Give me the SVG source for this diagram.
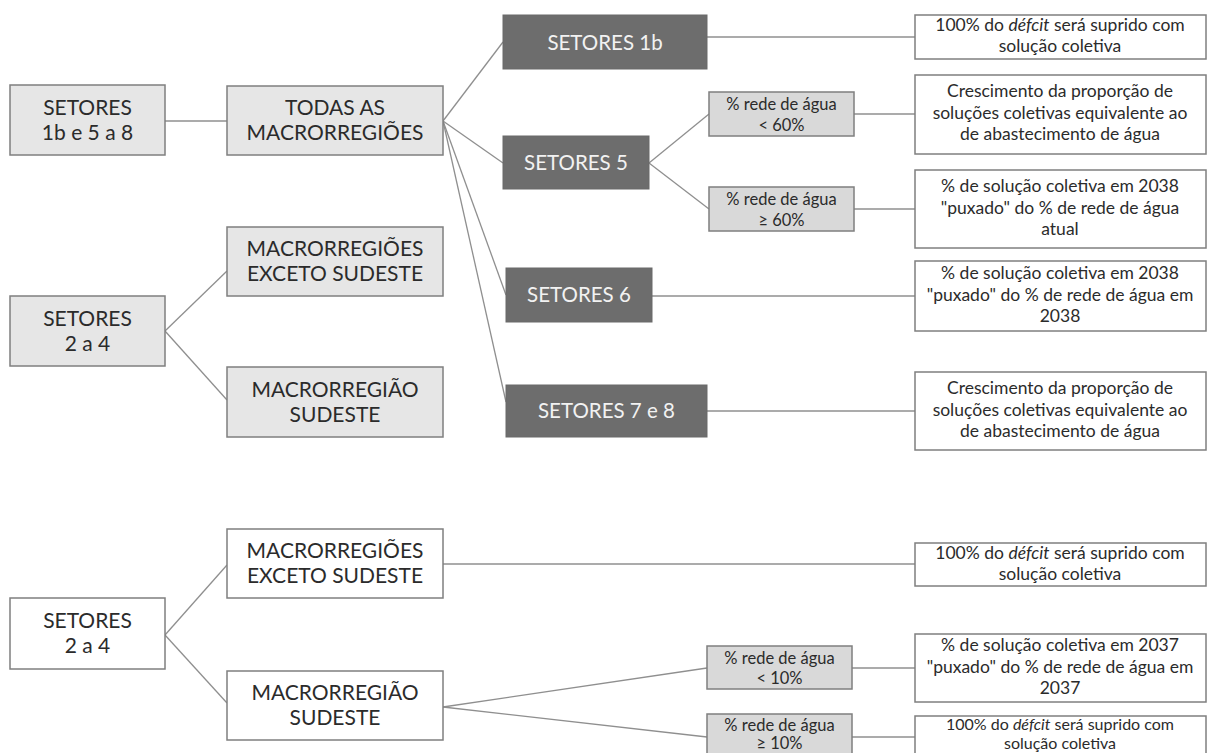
<svg xmlns="http://www.w3.org/2000/svg" width="1209" height="753" viewBox="0 0 1209 753">
  <style>
    .bg { fill: #ffffff; }
    .light rect { fill: #e6e6e6; stroke: #7f7f7f; stroke-width: 1.5; }
    .white rect { fill: #ffffff; stroke: #7f7f7f; stroke-width: 1.5; }
    .dark rect { fill: #6d6d6d; stroke: #6a6a6a; stroke-width: 1; }
    .cond rect { fill: #d9d9d9; stroke: #7f7f7f; stroke-width: 1.5; }
    .result rect { fill: #ffffff; stroke: #7f7f7f; stroke-width: 1.5; }
    text { font-family: Lato, "Liberation Sans", sans-serif; text-anchor: middle; }
    .light text, .white text { font-size: 21px; fill: #2b2b2b; }
    .dark text { font-size: 20.5px; fill: #f2f2f2; }
    .cond text { font-size: 16.5px; fill: #2b2b2b; }
    .result text { font-size: 17.5px; fill: #2b2b2b; }
    .result.edge text { font-size: 16px; }
    .it { font-style: italic; }
    #connectors line { stroke: #8f8f8f; stroke-width: 1.3; fill: none; }
  </style>
  <rect class="bg" x="0" y="0" width="1209" height="753"/>

  <!-- connectors -->
  <g id="connectors">
    <!-- upper tree -->
    <line x1="165" y1="121" x2="227" y2="121"/>
    <line x1="443" y1="121" x2="503" y2="42"/>
    <line x1="443" y1="121" x2="503" y2="163"/>
    <line x1="443" y1="121" x2="506" y2="295"/>
    <line x1="443" y1="121" x2="506" y2="402"/>
    <line x1="707" y1="37" x2="915" y2="37"/>
    <line x1="649" y1="163" x2="709" y2="114"/>
    <line x1="649" y1="163" x2="709" y2="209"/>
    <line x1="854" y1="114" x2="915" y2="114"/>
    <line x1="854" y1="209" x2="915" y2="209"/>
    <line x1="652" y1="296" x2="915" y2="296"/>
    <line x1="707" y1="411" x2="915" y2="411"/>
    <!-- middle tree -->
    <line x1="165" y1="331" x2="227" y2="271"/>
    <line x1="165" y1="331" x2="227" y2="400"/>
    <!-- lower tree -->
    <line x1="165" y1="635" x2="227" y2="565"/>
    <line x1="165" y1="635" x2="227" y2="703"/>
    <line x1="443" y1="564" x2="915" y2="564"/>
    <line x1="443" y1="707" x2="707" y2="668"/>
    <line x1="443" y1="707" x2="707" y2="737"/>
    <line x1="852" y1="668" x2="915" y2="668"/>
    <line x1="852" y1="737" x2="915" y2="737"/>
  </g>

  <!-- upper tree nodes -->
  <g id="n-setores-1b-5-8" class="light">
    <rect x="10" y="85" width="155" height="70"/>
    <text x="87.5" y="115">SETORES</text>
    <text x="87.5" y="140">1b e 5 a 8</text>
  </g>
  <g id="n-todas" class="light">
    <rect x="227" y="86" width="216" height="69"/>
    <text x="335" y="115">TODAS AS</text>
    <text x="335" y="140">MACRORREGIÕES</text>
  </g>
  <g id="n-s1b" class="dark">
    <rect x="503" y="15" width="204" height="54"/>
    <text x="605" y="50">SETORES 1b</text>
  </g>
  <g id="n-s5" class="dark">
    <rect x="503" y="136" width="146" height="53"/>
    <text x="576" y="170">SETORES 5</text>
  </g>
  <g id="n-s6" class="dark">
    <rect x="506" y="268" width="146" height="54"/>
    <text x="579" y="302">SETORES 6</text>
  </g>
  <g id="n-s78" class="dark">
    <rect x="506" y="385" width="201" height="52"/>
    <text x="606.5" y="418">SETORES 7 e 8</text>
  </g>
  <g id="n-lt60" class="cond">
    <rect x="709" y="92" width="145" height="44"/>
    <text x="781.5" y="110">% rede de água</text>
    <text x="781.5" y="131">&lt; 60%</text>
  </g>
  <g id="n-ge60" class="cond">
    <rect x="709" y="187" width="145" height="44"/>
    <text x="781.5" y="205">% rede de água</text>
    <text x="781.5" y="226">≥ 60%</text>
  </g>
  <g id="r1" class="result">
    <rect x="915" y="15" width="291" height="44"/>
    <text x="1060" y="31">100% do <tspan class="it">défcit</tspan> será suprido com</text>
    <text x="1060" y="52">solução coletiva</text>
  </g>
  <g id="r2" class="result">
    <rect x="915" y="75" width="291" height="79"/>
    <text x="1060" y="97">Crescimento da proporção de</text>
    <text x="1060" y="118.5">soluções coletivas equivalente ao</text>
    <text x="1060" y="140">de abastecimento de água</text>
  </g>
  <g id="r3" class="result">
    <rect x="915" y="170" width="291" height="78"/>
    <text x="1060" y="192">% de solução coletiva em 2038</text>
    <text x="1060" y="213.5">"puxado" do % de rede de água</text>
    <text x="1060" y="235">atual</text>
  </g>
  <g id="r4" class="result">
    <rect x="915" y="261" width="291" height="70"/>
    <text x="1060" y="279">% de solução coletiva em 2038</text>
    <text x="1060" y="300.5">"puxado" do % de rede de água em</text>
    <text x="1060" y="322">2038</text>
  </g>
  <g id="r5" class="result">
    <rect x="915" y="372" width="291" height="78"/>
    <text x="1060" y="394">Crescimento da proporção de</text>
    <text x="1060" y="415.5">soluções coletivas equivalente ao</text>
    <text x="1060" y="437">de abastecimento de água</text>
  </g>

  <!-- middle tree nodes -->
  <g id="n-setores-2-4-a" class="light">
    <rect x="10" y="296" width="155" height="70"/>
    <text x="87.5" y="326">SETORES</text>
    <text x="87.5" y="351">2 a 4</text>
  </g>
  <g id="n-exceto-a" class="light">
    <rect x="227" y="227" width="216" height="69"/>
    <text x="335" y="256">MACRORREGIÕES</text>
    <text x="335" y="281">EXCETO SUDESTE</text>
  </g>
  <g id="n-sudeste-a" class="light">
    <rect x="227" y="367" width="216" height="70"/>
    <text x="335" y="397">MACRORREGIÃO</text>
    <text x="335" y="422">SUDESTE</text>
  </g>

  <!-- lower tree nodes -->
  <g id="n-setores-2-4-b" class="white">
    <rect x="10" y="598" width="155" height="71"/>
    <text x="87.5" y="628">SETORES</text>
    <text x="87.5" y="653">2 a 4</text>
  </g>
  <g id="n-exceto-b" class="white">
    <rect x="227" y="529" width="216" height="69"/>
    <text x="335" y="558">MACRORREGIÕES</text>
    <text x="335" y="583">EXCETO SUDESTE</text>
  </g>
  <g id="n-sudeste-b" class="white">
    <rect x="227" y="671" width="216" height="69"/>
    <text x="335" y="700">MACRORREGIÃO</text>
    <text x="335" y="725">SUDESTE</text>
  </g>
  <g id="n-lt10" class="cond">
    <rect x="707" y="646" width="145" height="43"/>
    <text x="779.5" y="664">% rede de água</text>
    <text x="779.5" y="684">&lt; 10%</text>
  </g>
  <g id="n-ge10" class="cond">
    <rect x="707" y="714" width="145" height="44"/>
    <text x="779.5" y="731">% rede de água</text>
    <text x="779.5" y="749">≥ 10%</text>
  </g>
  <g id="r6" class="result">
    <rect x="915" y="543" width="291" height="43"/>
    <text x="1060" y="559">100% do <tspan class="it">défcit</tspan> será suprido com</text>
    <text x="1060" y="580">solução coletiva</text>
  </g>
  <g id="r7" class="result">
    <rect x="915" y="634" width="291" height="68"/>
    <text x="1060" y="651">% de solução coletiva em 2037</text>
    <text x="1060" y="672.5">"puxado" do % de rede de água em</text>
    <text x="1060" y="694">2037</text>
  </g>
  <g id="r8" class="result edge">
    <rect x="915" y="716" width="291" height="44"/>
    <text x="1060" y="730">100% do <tspan class="it">défcit</tspan> será suprido com</text>
    <text x="1060" y="749">solução coletiva</text>
  </g>
</svg>
